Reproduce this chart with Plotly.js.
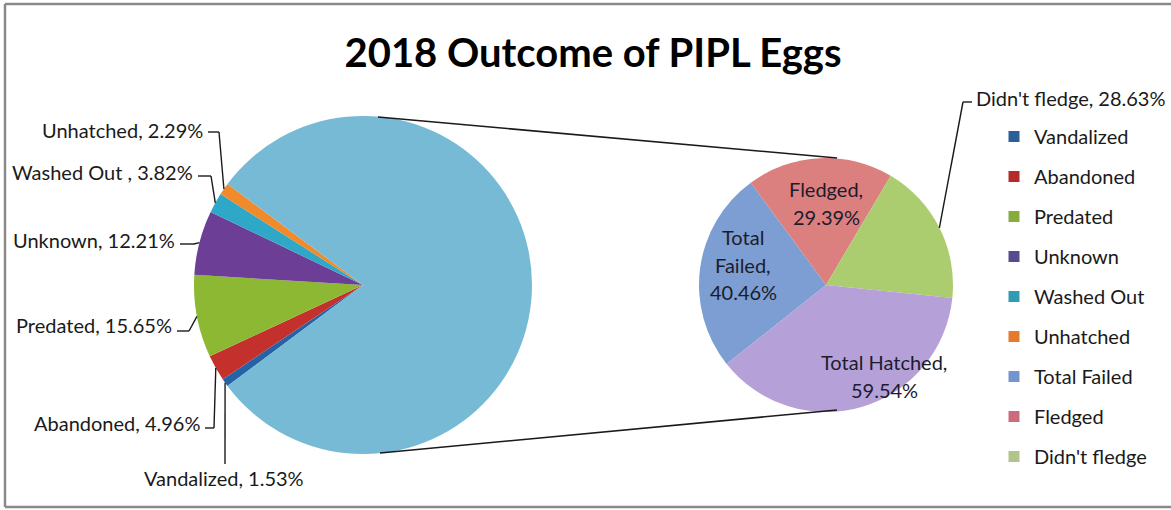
<!DOCTYPE html>
<html><head><meta charset="utf-8">
<script src="https://cdn.plot.ly/plotly-3.0.1.min.js"></script>
<style>html,body{margin:0;padding:0;background:#fff;} #chart{width:1171px;height:510px;}</style>
</head><body><div id="chart"></div>
<script>
// ---- data ----
const failLabels = ['Vandalized','Abandoned','Predated','Unknown','Washed Out','Unhatched'];
const failLabelText = ['Vandalized','Abandoned','Predated','Unknown','Washed Out ','Unhatched'];
const failValues = [1.53, 4.96, 15.65, 12.21, 3.82, 2.29];
const secondLabels = ['Total Failed','Fledged',"Didn't fledge",'Total Hatched'];
const secondValues = [40.46, 29.39, 28.63, 59.54];
const legendLabels = ['Vandalized','Abandoned','Predated','Unknown','Washed Out','Unhatched','Total Failed','Fledged',"Didn't fledge"];
const chartTitle = '2018 Outcome of PIPL Eggs';

// ---- styles ----
const failColors = ['#2563A6','#C4302C','#8DB833','#6C3E96','#2FA7C6','#F08A2A'];
const otherColor = '#76BAD6';
const secondColors = ['#7C9ED2','#DC7F7F','#ABCD70','#B5A0D8'];
const legendColors = ['#2A5F99','#B52A2A','#86AD3C','#574A8E','#2E9CB2','#E47A2C','#7494CF','#CC6B7D','#B2C48B'];
const W = 1171, H = 510;
const X = px => px / W, Y = py => 1 - py / H;
const FONT = 'Lato, "Open Sans", sans-serif';
const FS = 20;

const sum = a => a.reduce((s, v) => s + v, 0);
const otherValue = sum(secondValues);
const total1 = sum(failValues) + otherValue;
const S = sum(failValues) / total1 * 360;
const start1 = 180 + S / 2;          // math angle where first slice starts
const start2 = 218.5;                // second pie start angle (math)

const L = {cx: 363, cy: 285, r: 169};
const R = {cx: 826, cy: 285, r: 127};
const dom = c => ({x: [X(c.cx - c.r), X(c.cx + c.r)], y: [Y(c.cy + c.r), Y(c.cy - c.r)]});

function anchors(vals, total, start, c) {
  let cum = 0;
  return vals.map(v => {
    const mid = (start - (cum + v / 2) / total * 360) * Math.PI / 180;
    cum += v;
    return [c.cx + c.r * Math.cos(mid), c.cy - c.r * Math.sin(mid)];
  });
}
const a1 = anchors(failValues, total1, start1, L);
const a2 = anchors(secondValues, otherValue, start2, R);

const traces = [];
traces.push({
  type: 'pie', labels: [...failLabels, 'Other'], values: [...failValues, otherValue],
  marker: {colors: [...failColors, otherColor], line: {width: 0}},
  sort: false, direction: 'clockwise', rotation: 90 - start1,
  textinfo: 'none', hoverinfo: 'skip', showlegend: false, domain: dom(L)
});
traces.push({
  type: 'pie', labels: secondLabels.map(s => s + ' '), values: secondValues,
  marker: {colors: secondColors, line: {width: 0}},
  sort: false, direction: 'clockwise', rotation: 90 - start2,
  textinfo: 'none', hoverinfo: 'skip', showlegend: false, domain: dom(R)
});
legendLabels.forEach((n, i) => traces.push({
  type: 'scatter', mode: 'markers', x: [null], y: [null], name: n, legendgroup: 'g' + i,
  marker: {symbol: 'square', size: 11, color: legendColors[i]}, hoverinfo: 'skip'
}));

const fmt = v => v.toFixed(2) + '%';
// label placement (pixels)
const failLabelPos = [
  {x: 224, y: 478, xa: 'center', path: [[225, 464]]},
  {x: 202, y: 423, xa: 'right', path: [[205, 428], [214, 428]]},
  {x: 174, y: 325, xa: 'right', path: [[177, 331], [189, 331]]},
  {x: 177, y: 240, xa: 'right', path: [[180, 244], [194, 244]]},
  {x: 195, y: 172, xa: 'right', path: [[198, 176], [211, 176]]},
  {x: 205, y: 130, xa: 'right', path: [[208, 132], [219, 132]]}
];
const annotations = [];
const shapes = [];
const ln = (p, q, w, col) => ({type: 'line', xref: 'paper', yref: 'paper', x0: X(p[0]), y0: Y(p[1]), x1: X(q[0]), y1: Y(q[1]), line: {color: col || '#1a1a1a', width: w || 1.4}});

failLabels.forEach((n, i) => {
  const p = failLabelPos[i];
  annotations.push({xref: 'paper', yref: 'paper', x: X(p.x), y: Y(p.y), xanchor: p.xa, yanchor: 'middle',
    text: failLabelText[i] + ', ' + fmt(failValues[i]), showarrow: false, font: {family: FONT, size: FS, color: '#1a1a1a'}});
  const pts = [...p.path, a1[i]];
  for (let k = 0; k < pts.length - 1; k++) shapes.push(ln(pts[k], pts[k + 1]));
});

// second pie labels
const inside = [
  {i: 0, lines: ['Total', 'Failed,', fmt(secondValues[0])], x: 743, y0: 237},
  {i: 1, lines: [secondLabels[1] + ',', fmt(secondValues[1])], x: 826, y0: 189},
  {i: 3, lines: [secondLabels[3] + ',', fmt(secondValues[3])], x: 884, y0: 362}
];
inside.forEach(o => o.lines.forEach((t, k) => annotations.push({xref: 'paper', yref: 'paper',
  x: X(o.x), y: Y(o.y0 + k * 27.5), xanchor: 'center', yanchor: 'middle', text: t, showarrow: false,
  font: {family: FONT, size: FS, color: '#1c1c2c'}})));
annotations.push({xref: 'paper', yref: 'paper', x: X(974), y: Y(98), xanchor: 'left', yanchor: 'middle',
  text: secondLabels[2] + ', ' + fmt(secondValues[2]), showarrow: false, font: {family: FONT, size: FS, color: '#1a1a1a'}});
shapes.push(ln(a2[2], [963, 102]));
shapes.push(ln([963, 102], [972, 102]));

// connector lines between pies
shapes.push(ln([378, 117], [837, 158], 1.6));
shapes.push(ln([380, 453], [837, 410], 1.6));
// chart border
shapes.push(ln([5, 4], [1180, 4], 2.5, '#8a8a8a'));
shapes.push(ln([5, 4], [5, 507], 2.5, '#8a8a8a'));
shapes.push(ln([5, 507], [1180, 507], 2.5, '#8a8a8a'));

const layout = {
  width: W, height: H, margin: {l: 0, r: 0, t: 0, b: 0},
  paper_bgcolor: '#fff', plot_bgcolor: '#fff',
  font: {family: FONT, size: FS, color: '#1a1a1a'},
  title: {text: '<b>' + chartTitle + '</b>', x: X(593), y: Y(53), xref: 'paper', yref: 'paper',
    xanchor: 'center', yanchor: 'middle', font: {family: FONT, size: 40, color: '#000'}},
  xaxis: {visible: false}, yaxis: {visible: false},
  showlegend: true,
  legend: {x: X(994), y: Y(117), xanchor: 'left', yanchor: 'top', bgcolor: 'rgba(0,0,0,0)',
    font: {family: FONT, size: FS, color: '#1a1a1a'}, tracegroupgap: 11, itemclick: false, itemdoubleclick: false},
  annotations: annotations, shapes: shapes, hovermode: false
};
Plotly.newPlot('chart', traces, layout, {staticPlot: true, displayModeBar: false});
</script></body></html>
